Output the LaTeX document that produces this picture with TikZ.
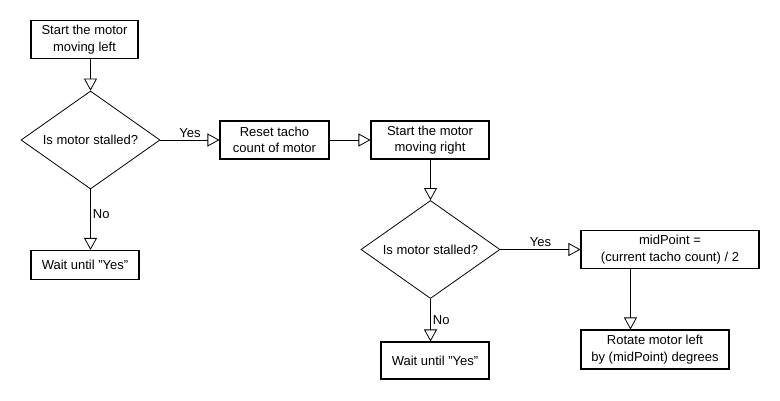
\documentclass[tikz,border=0pt]{standalone}
\usepackage{fontspec}
\setmainfont{Liberation Sans}
\usetikzlibrary{arrows.meta,shapes.geometric}
\newcommand{\dquote}{\symbol{34}}
\tikzset{
  box/.style={draw, line width=1.1pt, align=center, minimum height=38pt, inner sep=0pt, font=\fontsize{13}{16.5}\selectfont},
  kstep/.style={box, minimum width=108pt},
  kwide/.style={box, minimum width=178pt},
  kdecision/.style={draw, line width=0.8pt, diamond, aspect=1.42, minimum width=139pt, minimum height=98pt, inner sep=0pt, font=\fontsize{13}{16.5}\selectfont},
  flow/.style={-{Triangle[open, length=12pt, width=13pt]}, line width=0.8pt},
  lbl/.style={font=\fontsize{13}{16.5}\selectfont, inner sep=2pt},
}

\begin{document}
\begin{tikzpicture}[x=1pt, y=-1pt]
    \useasboundingbox (0,0) rectangle (780,400);
    \node[kstep, minimum width=107pt] (moveleft) at (84.5,39.5) {Start the motor\\moving left};
    \node[kdecision] (stall1) at (90.5,140) {Is motor stalled?};
    \node[kstep, minimum height=29pt] (wait1) at (85,265) {Wait until \dquote Yes\dquote};
    \node[kstep, minimum width=109pt] (reset) at (274.5,140) {Reset tacho\\count of motor};
    \node[kstep, minimum width=118pt] (moveright) at (430,140) {Start the motor\\moving right};
    \node[kdecision] (stall2) at (430.5,249.5) {Is motor stalled?};
    \node[kstep, minimum height=37pt] (wait2) at (435,360.5) {Wait until \dquote Yes\dquote};
    \node[kwide] (midpt) at (670,249.5) {midPoint =\\(current tacho count) / 2};
    \node[box, minimum width=148pt, minimum height=39pt] (rotate) at (655,349.5) {Rotate motor left\\by (midPoint) degrees};
    \draw[flow] (stall1.north |- moveleft.south) -- (stall1.north);
    \draw[flow] (stall1.east) -- (reset.west) node[midway, above, lbl]{Yes};
    \draw[flow] (stall1.south) -- (stall1.south |- wait1.north) node[pos=0.4, right, lbl]{No};
    \draw[flow] (reset.east) -- (moveright.west);
    \draw[flow] (stall2.north |- moveright.south) -- (stall2.north);
    \draw[flow] (stall2.east) -- (midpt.west) node[midway, above, lbl]{Yes};
    \draw[flow] (stall2.south) -- (stall2.south |- wait2.north) node[midway, right, lbl]{No};
    \draw[flow] ([xshift=50pt]midpt.south west) -- ([xshift=50pt]rotate.north west);
  \end{tikzpicture}
\end{document}
